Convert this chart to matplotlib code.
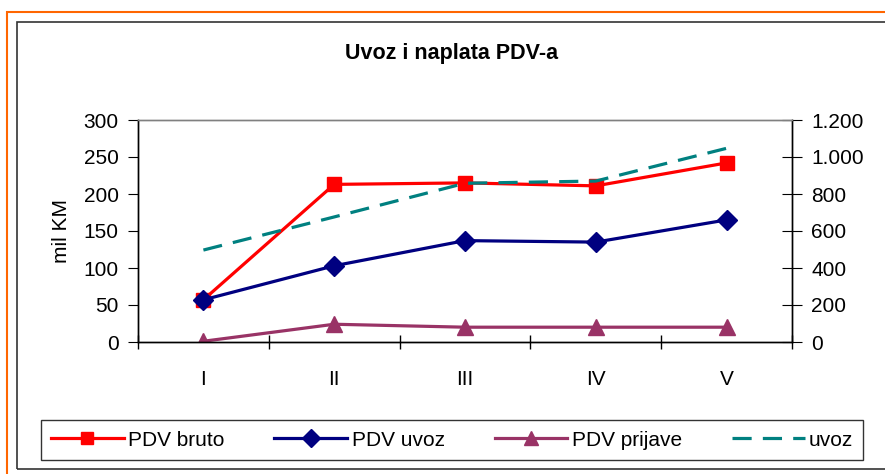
import matplotlib.pyplot as plt
from matplotlib.lines import Line2D
from matplotlib.patches import Rectangle
from matplotlib.ticker import FuncFormatter

plt.rcParams['font.family'] = ['Liberation Sans', 'DejaVu Sans']

mjeseci = ['I', 'II', 'III', 'IV', 'V']
pdv_bruto = [57, 213, 215, 211, 242]
pdv_uvoz = [57, 103, 137, 135, 165]
pdv_prijave = [1, 24, 20, 20, 20]
uvoz = [497, 676, 858, 870, 1047]

fig = plt.figure(figsize=(8.85, 4.74), dpi=100)

# okviri (narandzasti i crni)
fig.patches.append(Rectangle((7 / 885, -0.05), 1.1, 1 - 12 / 474 + 0.05, transform=fig.transFigure,
                             fill=False, edgecolor='#FF6600', linewidth=1.5))
fig.patches.append(Rectangle((17 / 885, 1 - 469 / 474), 1.1, (469 - 22) / 474, transform=fig.transFigure,
                             fill=False, edgecolor='#333333', linewidth=1.2))

ax = fig.add_axes([138 / 885, 1 - 342 / 474, (792 - 138) / 885, (342 - 120) / 474])
x = range(len(mjeseci))

ax.plot(x, pdv_bruto, color='#FF0000', lw=2.3, marker='s', ms=10, label='PDV bruto')
ax.plot(x, pdv_uvoz, color='#000080', lw=2.3, marker='D', ms=10, label='PDV uvoz')
ax.plot(x, pdv_prijave, color='#993366', lw=2.3, marker='^', ms=11, label='PDV prijave')

ax2 = ax.twinx()
ax2.plot(x, uvoz, color='#008080', lw=2.3, dashes=(6, 3.5), label='uvoz')

ax.set_xlim(-0.5, 4.5)
ax.set_ylim(0, 300)
ax2.set_ylim(0, 1200)
ax.set_yticks(range(0, 301, 50))
ax2.set_yticks(range(0, 1201, 200))
ax2.yaxis.set_major_formatter(FuncFormatter(lambda v, p: f'{int(v):,}'.replace(',', '.')))

fs = 15
ax.set_xticks([i - 0.5 for i in range(6)])
ax.set_xticklabels([])
ax.set_xticks(list(x), minor=True)
ax.set_xticklabels(mjeseci, minor=True, fontsize=fs)
ax.tick_params(axis='x', which='major', direction='inout', length=10, width=1)
ax.tick_params(axis='x', which='minor', length=0, pad=20)
ax.tick_params(axis='y', direction='out', length=7, labelsize=fs, pad=7)
ax2.tick_params(axis='y', direction='inout', length=14, labelsize=fs, pad=7)

for a in (ax, ax2):
    a.spines['top'].set_color('#808080')
    for s in a.spines.values():
        s.set_linewidth(1)

ax.set_ylabel('mil KM', fontsize=fs, labelpad=9)
fig.text(452 / 885, 1 - 53 / 474, 'Uvoz i naplata PDV-a', ha='center', va='center',
         fontsize=15.5, fontweight='bold')

handles = [
    Line2D([], [], color='#FF0000', lw=2.3, marker='s', ms=9),
    Line2D([], [], color='#000080', lw=2.3, marker='D', ms=9),
    Line2D([], [], color='#993366', lw=2.3, marker='^', ms=10),
    Line2D([], [], color='#008080', lw=2.3, dashes=(6, 3.5)),
]
labels = ['PDV bruto', 'PDV uvoz', 'PDV prijave', 'uvoz']
leg = fig.legend(handles, labels, loc='center', bbox_to_anchor=(452 / 885, 1 - 440 / 474), ncol=4,
                 fontsize=fs, frameon=True, fancybox=False, edgecolor='black',
                 handlelength=3.5, handletextpad=0.2, columnspacing=2.4, borderpad=0.5,
                 borderaxespad=0)
leg.get_frame().set_linewidth(1)

fig.savefig('out.png', dpi=100)
